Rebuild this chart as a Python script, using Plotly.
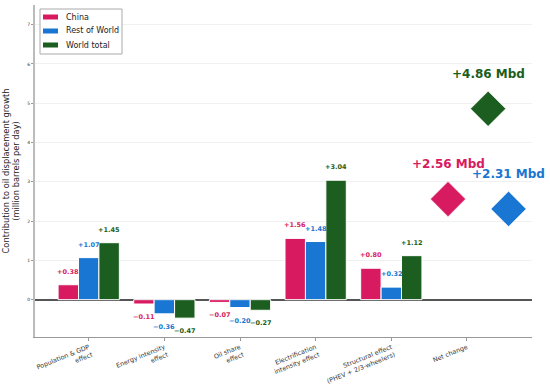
import plotly.graph_objects as go

categories = ["Population & GDP<br>effect", "Energy intensity<br>effect", "Oil share<br>effect",
              "Electrification<br>intensity effect", "Structural effect<br>(PHEV + 2/3-wheelers)", "Net change"]
series_names = ["China", "Rest of World", "World total"]
china = [0.38, -0.11, -0.07, 1.56, 0.80]
rest_of_world = [1.07, -0.36, -0.20, 1.48, 0.32]
world_total = [1.45, -0.47, -0.27, 3.04, 1.12]
net_change = [2.56, 2.31, 4.86]

C_CHINA = "#d81b60"
C_ROW = "#1976d2"
C_WORLD = "#1b5e20"
COLORS = [C_CHINA, C_ROW, C_WORLD]
FONT = "DejaVu Sans"

bar_offsets = [-0.27, 0.0, 0.27]
net_offsets = [-0.25, 0.55, 0.28]

fig = go.Figure()
annotations = []
shapes = []
for name, vals, col, off in zip(series_names, [china, rest_of_world, world_total], COLORS, bar_offsets):
    xs = [i + off for i in range(len(vals))]
    fig.add_trace(go.Bar(x=xs, y=vals, width=0.27, name=name, showlegend=False,
                         marker=dict(color=col, line=dict(color="white", width=1))))
    for x, v in zip(xs, vals):
        txt = f"+{v:.2f}" if v >= 0 else f"\u2212{abs(v):.2f}"
        annotations.append(dict(x=x, y=v, text=f"<b>{txt}</b>", showarrow=False,
                                yshift=13 if v >= 0 else -13, yanchor="middle",
                                font=dict(family=FONT, size=6.5, color=col)))

for name, v, col, off in zip(series_names, net_change, COLORS, net_offsets):
    x = 5 + off
    fig.add_trace(go.Scatter(x=[x], y=[v], mode="markers", showlegend=False, name=name,
                             marker=dict(symbol="diamond", size=27, color=col,
                                         line=dict(color="white", width=0.5))))
    annotations.append(dict(x=x, y=v, text=f"<b>+{v:.2f} Mbd</b>", showarrow=False,
                            yshift=35, yanchor="middle",
                            font=dict(family=FONT, size=12, color=col)))

# compact legend box (paper coords: plot area is 497 x 332 px, x0=35, y0(bottom)=337)
PW, PH = 497.0, 332.0
def px(xp):
    return (xp - 35) / PW
def py(yp):
    return (337 - yp) / PH
shapes.append(dict(type="rect", xref="paper", yref="paper", x0=px(40), x1=px(122),
                   y0=py(54), y1=py(9), line=dict(color="#aaa", width=1), fillcolor="white",
                   layer="above"))
for k, (name, col) in enumerate(zip(series_names, COLORS)):
    yc = 17 + 14 * k
    shapes.append(dict(type="rect", xref="paper", yref="paper", x0=px(43), x1=px(58),
                       y0=py(yc + 2.5), y1=py(yc - 2.5), line=dict(width=0), fillcolor=col,
                       layer="above"))
    annotations.append(dict(xref="paper", yref="paper", x=px(64), y=py(yc), text=name,
                            showarrow=False, xanchor="left", yanchor="middle",
                            font=dict(family=FONT, size=8, color="#222")))

fig.update_layout(
    width=550, height=388,
    margin=dict(l=35, r=18, t=5, b=51),
    plot_bgcolor="white", paper_bgcolor="white",
    barmode="overlay",
    font=dict(family=FONT, size=6, color="#333"),
    annotations=annotations,
    shapes=shapes,
    showlegend=False,
    xaxis=dict(range=[-0.71, 5.86], tickmode="array", tickvals=list(range(len(categories))),
               ticktext=categories, tickangle=-22, showgrid=False, zeroline=False,
               showline=True, linecolor="#999", linewidth=1,
               ticks="outside", ticklen=3, tickcolor="#999", automargin=False,
               tickfont=dict(family=FONT, size=6.4, color="#333")),
    yaxis=dict(range=[-0.95, 7.5], tickvals=[0, 1, 2, 3, 4, 5, 6, 7],
               showgrid=True, gridcolor="#f0f0f0", gridwidth=1,
               zeroline=True, zerolinecolor="#555", zerolinewidth=1.5,
               showline=True, linecolor="#bbb", linewidth=2,
               ticks="outside", ticklen=2, tickcolor="#999", automargin=False,
               tickfont=dict(family=FONT, size=4.5, color="#333"),
               title=dict(text="Contribution to oil displacement growth<br>(million barrels per day)",
                          font=dict(family=FONT, size=8.3, color="#222"), standoff=6)),
)

fig.write_html("out.html", config={"displayModeBar": False},
               post_script="document.body.style.margin='0';document.body.style.padding='0';")
